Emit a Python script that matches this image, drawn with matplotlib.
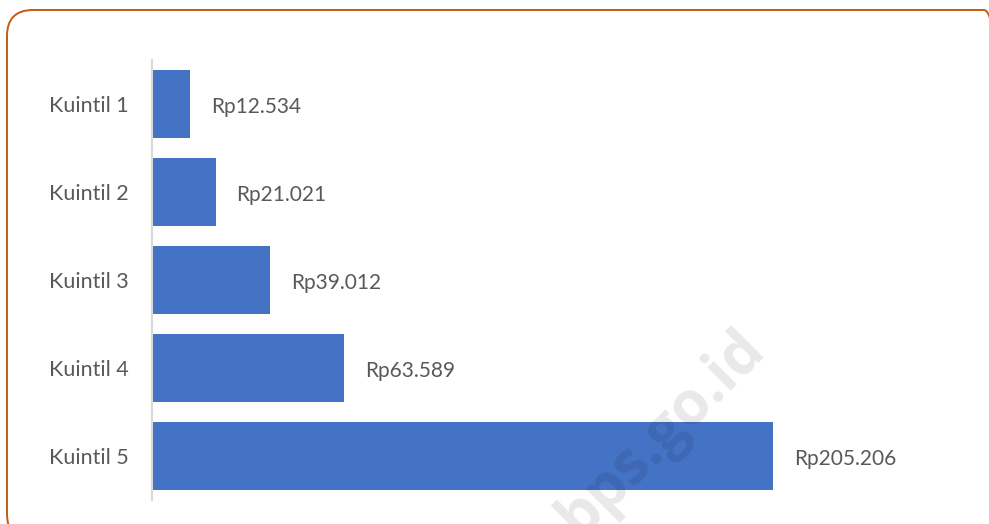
import matplotlib.pyplot as plt
from matplotlib.patches import FancyBboxPatch
from matplotlib.transforms import IdentityTransform

plt.rcParams['font.family'] = ['Lato', 'DejaVu Sans']

# pengeluaran per kapita per kuintil (Rupiah)
categories = ["Kuintil 1", "Kuintil 2", "Kuintil 3", "Kuintil 4", "Kuintil 5"]
values = [12534, 21021, 39012, 63589, 205206]
value_labels = ["Rp12.534", "Rp21.021", "Rp39.012", "Rp63.589", "Rp205.206"]

BAR_COLOR = "#4472C4"
TEXT_COLOR = "#595959"
W, H = 989, 524

fig = plt.figure(figsize=(W / 100, H / 100), dpi=100)

# rounded frame around the chart (pixel units, runs past right/bottom edges)
frame = FancyBboxPatch((7, -16), 1003, 530,
                       boxstyle="round,pad=0,rounding_size=26",
                       transform=IdentityTransform(), facecolor="none",
                       edgecolor="#C55A11", linewidth=1.4, zorder=0)
fig.patches.append(frame)

ax = fig.add_axes([152 / W, 1 - 500 / H, (960 - 152) / W, (500 - 60) / H])
ax.patch.set_alpha(0)

y = range(len(categories))
ax.barh(y, values, height=0.77, color=BAR_COLOR)
ax.set_ylim(4.5, -0.5)
ax.set_xlim(0, 808 / (621 / 205206))

for i, lab in enumerate(value_labels):
    ax.annotate(lab, (values[i], i), xytext=(21, -3), textcoords="offset pixels",
                ha="left", va="center", fontsize=15, color=TEXT_COLOR)

ax.set_yticks(list(y))
ax.set_yticklabels(categories, fontsize=15.5, color=TEXT_COLOR)
ax.tick_params(axis="y", length=0, pad=17)
ax.set_xticks([])
for side in ["top", "right", "bottom"]:
    ax.spines[side].set_visible(False)
ax.spines["left"].set_color("#D9D9D9")
ax.spines["left"].set_linewidth(1.5)

# watermark
fig.text(662 / W, 1 - 434 / H, "bps.go.id", rotation=45, fontsize=43,
         fontweight="bold", color="black", alpha=0.09, ha="center", va="center",
         rotation_mode="anchor", family="Open Sans", zorder=5)

fig.savefig("out.png", dpi=100)
